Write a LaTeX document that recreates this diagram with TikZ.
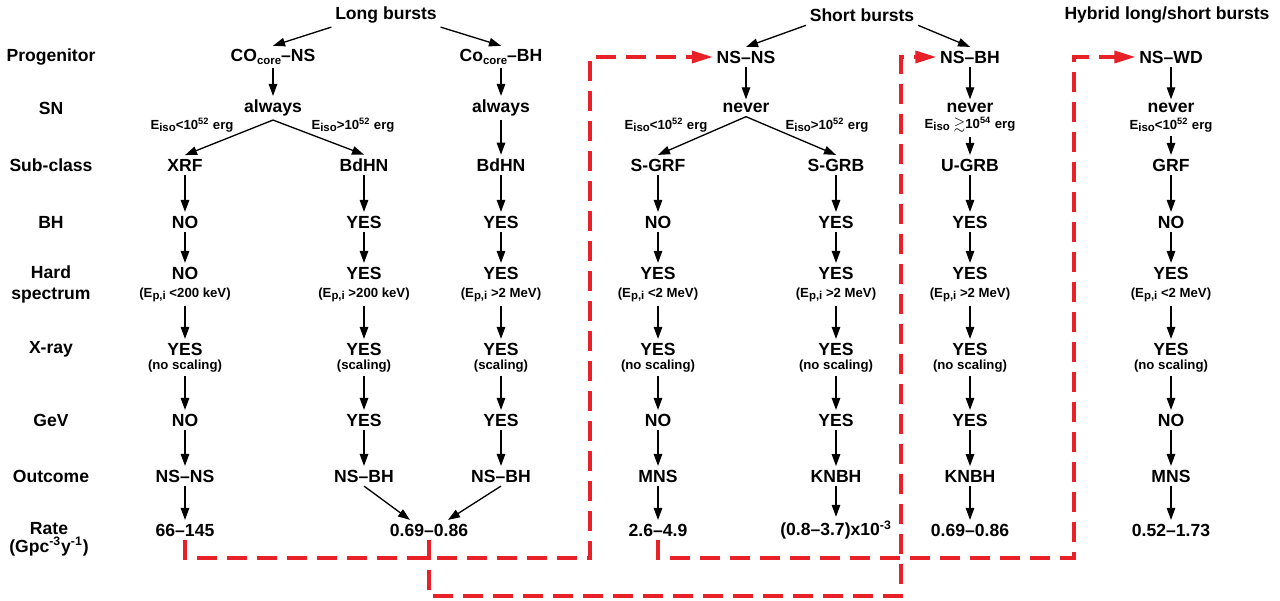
\documentclass[tikz,border=0pt]{standalone}
\usepackage{amssymb}
\usepackage{fontspec}
\setmainfont{Liberation Sans}
\usepackage{tikz}
\usetikzlibrary{arrows.meta}
\definecolor{flowred}{RGB}{232,32,40}
% small index that sits near the baseline
\newcommand{\lowix}[1]{\raisebox{-0.25ex}{\fontsize{6.5}{7}\selectfont #1}}

\begin{document}
\begin{tikzpicture}[x=0.02cm, y=-0.02cm, >={Triangle[length=2.4mm,width=1.7mm]},
	every node/.style={
		% The font:
		font=\bfseries\fontsize{10}{12}\selectfont,
		% The padding:
		inner sep=2pt},
	note/.style={
		% Small text under a value:
		font=\bfseries\fontsize{7.5}{9}\selectfont},
	link/.style={
		% Black arrows:
		->, line width=0.75pt},
	feed/.style={
		% The red loops back to the progenitors:
		draw=flowred, line width=1.9pt, dash pattern=on 0.4cm off 0.2cm,
		-{Triangle[length=4.2mm,width=2.4mm]}}]
    \useasboundingbox (0,0) rectangle (1280,601);

    % titles and progenitors
    \node (lb) at (386,15) {Long bursts};
    \node (sb) at (862,15) {Short bursts};
    \node (hb) at (1167,15) {Hybrid long/short bursts};
    \node (pn) at (273,57) {CO\lowix{core}–NS};
    \node (pb) at (501,57) {Co\lowix{core}–BH};
    \node (ps) at (746,57) {NS–NS};
    \node (p6) at (970,57) {NS–BH};
    \node (p7) at (1171,57) {NS–WD};

    \node (an) at (273,108) {always};
    \node (ab) at (501,108) {always};
    \node (ns) at (746,108) {never};
    \node (n6) at (970,108) {never};
    \node (n7) at (1171,108) {never};
    \node[note] (e1) at (192,125) {E\lowix{iso}<10\textsuperscript{52} erg};
    \node[note] (e2) at (353,125) {E\lowix{iso}>10\textsuperscript{52} erg};
    \node[note] (e4) at (666,125) {E\lowix{iso}<10\textsuperscript{52} erg};
    \node[note] (e5) at (827,125) {E\lowix{iso}>10\textsuperscript{52} erg};
    \node[note] (e6) at (970,125) {E\lowix{iso} $\gtrsim$10\textsuperscript{54} erg};
    \node[note] (e7) at (1171,125) {E\lowix{iso}<10\textsuperscript{52} erg};

    % the seven columns
    \foreach \i/\x/\sct/\bhv/\hdv/\hsv/\xsv/\gvv/\ocv in {
      1/185/XRF/NO/NO/{(E\lowix{p,i} <200 keV)}/{(no scaling)}/NO/NS–NS,
      2/364/BdHN/YES/YES/{(E\lowix{p,i} >200 keV)}/{(scaling)}/YES/NS–BH,
      3/501/BdHN/YES/YES/{(E\lowix{p,i} >2 MeV)}/{(scaling)}/YES/NS–BH,
      4/658/S-GRF/NO/YES/{(E\lowix{p,i} <2 MeV)}/{(no scaling)}/NO/MNS,
      5/836/S-GRB/YES/YES/{(E\lowix{p,i} >2 MeV)}/{(no scaling)}/YES/KNBH,
      6/970/U-GRB/YES/YES/{(E\lowix{p,i} >2 MeV)}/{(no scaling)}/YES/KNBH,
      7/1171/GRF/NO/YES/{(E\lowix{p,i} <2 MeV)}/{(no scaling)}/NO/MNS}{
      \node (sc\i) at (\x,165) {\sct};
      \node (bh\i) at (\x,222) {\bhv};
      \node (hd\i) at (\x,273) {\hdv};
      \node[note] (hs\i) at (\x,295) {\hsv};
      \node (xr\i) at (\x,349) {YES};
      \node[note] (xs\i) at (\x,366) {\xsv};
      \node (gv\i) at (\x,420) {\gvv};
      \node (oc\i) at (\x,476) {\ocv};
      \draw[link] (sc\i) -- (bh\i);
      \draw[link] (bh\i) -- (hd\i);
      \draw[link] (hs\i) -- (xr\i);
      \draw[link] (xs\i) -- (gv\i);
      \draw[link] (gv\i) -- (oc\i);
    }

    \node (r1) at (185,530) {66–145};
    \node (r23) at (429,530) {0.69–0.86};
    \node (r4) at (658,530) {2.6–4.9};
    \node (r5) at (836,530) {(0.8–3.7)x10\textsuperscript{-3}};
    \node (r6) at (970,530) {0.69–0.86};
    \node (r7) at (1171,530) {0.52–1.73};

    % row labels
    \foreach \t/\y in {Progenitor/57, SN/108, Sub-class/165, BH/222, X-ray/349, GeV/420, Outcome/476}{
      \node (l\y) at (51,\y) {\t};
    }
    \node[align=center] (lhs) at (51,284) {Hard\\spectrum};
    \node[align=center] (lrt) at (49,539) {Rate\\[-2pt](Gpc\textsuperscript{-3}y\textsuperscript{-1})};

    % arrows
    \draw[link] (lb.south west) -- (pn.north);
    \draw[link] (lb.south east) -- (pb.north);
    \draw[link] (sb.south west) -- (ps.north);
    \draw[link] (sb.south east) -- (p6.north);
    \draw[link] (pn) -- (an);
    \draw[link] (pb) -- (ab);
    \draw[link] (ps) -- (ns);
    \draw[link] (p6) -- (n6);
    \draw[link] (p7) -- (n7);
    \draw[link] (an.south) -- (sc1.north);
    \draw[link] (an.south) -- (sc2.north);
    \draw[link] (ab) -- (sc3);
    \draw[link] (ns.south) -- (sc4.north);
    \draw[link] (ns.south) -- (sc5.north);
    \draw[link] (e6) -- (sc6);
    \draw[link] (e7) -- (sc7);
    \foreach \i in {1,4,5,6,7}{
      \draw[link] (oc\i) -- (r\i);
    }
    \draw[link] (oc2.south) -- ([xshift=-0.38cm]r23.north);
    \draw[link] (oc3.south) -- ([xshift=0.38cm]r23.north);

    % red loops
    \coordinate (ka) at (590,558);
    \coordinate (kb) at (901,596);
    \coordinate (kc) at (1074,558);
    \draw[feed] (r1.south) |- (ka) |- (ps.west);
    \draw[feed] (r23.south) |- (kb) |- (p6.west);
    \draw[feed] (r4.south) |- (kc) |- (p7.west);

\end{tikzpicture}
\end{document}
